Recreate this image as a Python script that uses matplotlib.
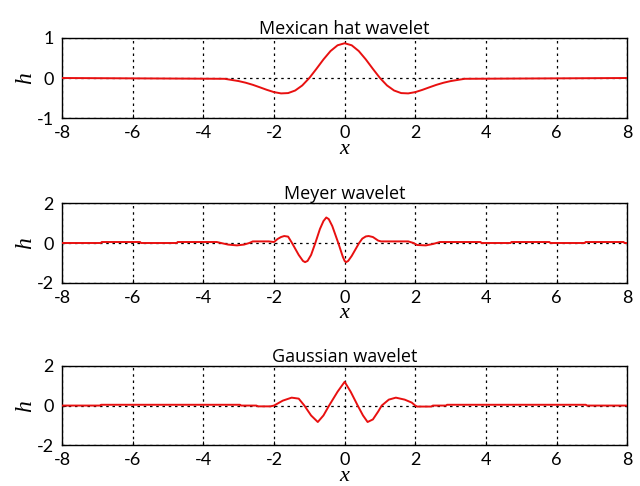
import matplotlib
matplotlib.use("Agg")
import matplotlib.pyplot as plt

plt.rcParams["axes.unicode_minus"] = False

# Mexican hat wavelet ------------------------------------------
hat_x = [-8, -3.4, -3.2, -3.0, -2.8, -2.6, -2.4, -2.2, -2.0, -1.8, -1.6, -1.4, -1.2, -1.0,
         -0.8, -0.6, -0.4, -0.2, 0.0, 0.2, 0.4, 0.6, 0.8, 1.0, 1.2, 1.4, 1.6, 1.8, 2.0,
         2.2, 2.4, 2.6, 2.8, 3.0, 3.2, 3.4, 8]
hat_h = [0.0, -0.02, -0.048, -0.077, -0.118, -0.170, -0.232, -0.296, -0.352, -0.384, -0.376,
         -0.312, -0.186, 0.0, 0.227, 0.463, 0.672, 0.816, 0.867, 0.816, 0.672, 0.463, 0.227,
         0.0, -0.186, -0.312, -0.376, -0.384, -0.352, -0.296, -0.232, -0.170, -0.118, -0.077,
         -0.048, -0.02, 0.0]

# Meyer wavelet ------------------------------------------------
meyer_x = [-8, -6.9, -6.88, -5.79, -5.77, -4.75, -4.73, -3.62, -3.5, -3.3, -3.05, -2.85, -2.7,
           -2.6, -2.15, -2.0, -1.9, -1.8, -1.71, -1.6, -1.49, -1.3, -1.18, -1.12, -1.05, -0.95,
           -0.83, -0.7, -0.6, -0.52, -0.45, -0.35, -0.18, -0.05, 0.0, 0.04, 0.1, 0.2, 0.41,
           0.5, 0.6, 0.68, 0.8, 0.95, 1.03, 1.8, 1.95, 2.05, 2.3, 2.5, 2.7, 3.85, 3.87, 4.7,
           4.72, 5.8, 5.82, 6.8, 6.82, 7.9, 7.92, 8]
meyer_h = [0.0, 0.0, 0.05, 0.05, 0.0, 0.0, 0.05, 0.05, 0.0, -0.08, -0.12, -0.08, 0.0,
           0.08, 0.08, 0.05, 0.2, 0.3, 0.35, 0.32, 0.0, -0.6, -0.9, -0.96, -0.9, -0.6,
           0.0, 0.7, 1.1, 1.28, 1.2, 0.85, 0.0, -0.7, -0.9, -0.96, -0.9, -0.65, 0.0,
           0.22, 0.33, 0.35, 0.3, 0.12, 0.08, 0.08, 0.0, -0.1, -0.12, -0.05, 0.05, 0.05, 0.0, 0.0,
           0.05, 0.05, 0.0, 0.0, 0.05, 0.05, 0.0, 0.0]

# Gaussian wavelet ---------------------------------------------
gaus_x = [-8, -6.92, -6.9, -2.96, -2.94, -2.5, -2.45, -2.1, -2.0, -1.75, -1.5, -1.3, -1.14,
          -0.95, -0.76, -0.6, -0.44, -0.2, 0.0, 0.17, 0.37, 0.52, 0.65, 0.8, 0.95, 1.05,
          1.25, 1.45, 1.7, 1.9, 2.0, 2.05, 2.45, 2.5, 2.87, 2.9, 6.83, 6.86, 8]
gaus_h = [0.0, 0.0, 0.04, 0.04, 0.0, 0.0, -0.04, -0.04, 0.0, 0.25, 0.4, 0.35, 0.0,
          -0.5, -0.83, -0.5, 0.0, 0.7, 1.2, 0.7, 0.0, -0.5, -0.83, -0.7, -0.3, 0.0,
          0.3, 0.4, 0.3, 0.15, 0.0, -0.05, -0.05, 0.0, 0.0, 0.04, 0.04, 0.0, 0.0]

titles = ["Mexican hat wavelet", "Meyer wavelet", "Gaussian wavelet"]
xs = [hat_x, meyer_x, gaus_x]
hs = [hat_h, meyer_h, gaus_h]
ylims = [(-1, 1), (-2, 2), (-2, 2)]
yticks = [[-1, 0, 1], [-2, 0, 2], [-2, 0, 2]]
xticks = [-8, -6, -4, -2, 0, 2, 4, 6, 8]

fig = plt.figure(figsize=(6.4, 4.86), dpi=100)
boxes = [[0.097, 0.757, 0.883, 0.165],
         [0.097, 0.418, 0.883, 0.164],
         [0.097, 0.084, 0.883, 0.163]]

for i in range(3):
    ax = fig.add_axes(boxes[i])
    ax.plot(xs[i], hs[i], color="#e81010", lw=1.4, zorder=3)
    ax.set_xlim(-8, 8)
    ax.set_ylim(*ylims[i])
    ax.set_xticks(xticks)
    ax.set_yticks(yticks[i])
    ax.grid(True, color="black", linestyle=(0, (2, 3)), linewidth=0.9)
    ax.tick_params(direction="in", length=3, labelsize=13)
    ax.tick_params(axis="x", pad=5)
    ax.tick_params(axis="y", pad=6)
    for lab in ax.get_xticklabels() + ax.get_yticklabels():
        lab.set_family("Lato")
    for s in ax.spines.values():
        s.set_linewidth(1.0)
    ax.set_title(titles[i], fontsize=13, family="Open Sans", pad=3)
    ax.set_ylabel("h", family="Liberation Serif", style="italic", fontsize=17, labelpad=0)
    ax.set_xlabel("x", family="Liberation Serif", style="italic", fontsize=16, labelpad=-1)

fig.savefig("out.png", dpi=100)
